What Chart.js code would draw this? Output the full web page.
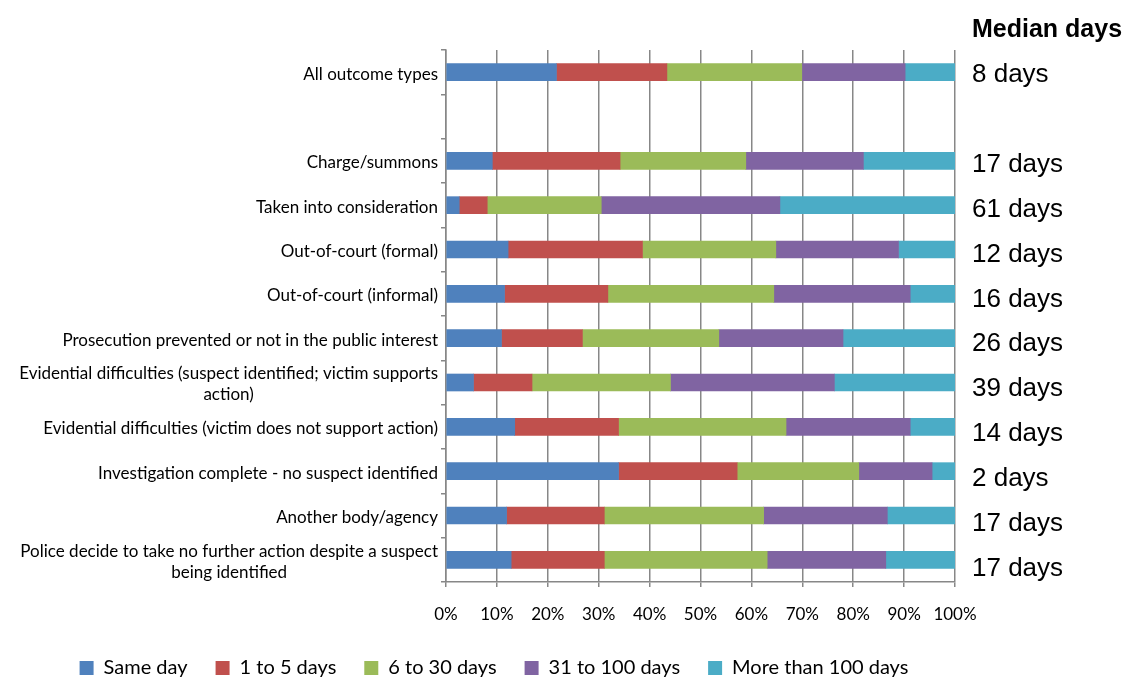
<!DOCTYPE html>
<html>
<head>
<meta charset="utf-8">
<script src="https://cdn.jsdelivr.net/npm/chart.js@4.4.0/dist/chart.umd.min.js"></script>
<style>
  html, body { margin: 0; padding: 0; background: #fff; }
  #wrap { width: 1126px; height: 680px; }
</style>
</head>
<body>
<div id="wrap"><canvas id="chart" width="1126" height="680"></canvas></div>
<script>
const categories = [
  'All outcome types',
  '',
  'Charge/summons',
  'Taken into consideration',
  'Out-of-court (formal)',
  'Out-of-court (informal)',
  'Prosecution prevented or not in the public interest',
  ['Evidential difficulties (suspect identified; victim supports', 'action)'],
  'Evidential difficulties (victim does not support action)',
  'Investigation complete - no suspect identified',
  'Another body/agency',
  ['Police decide to take no further action despite a suspect', 'being identified']
];
const medianDays = ['8 days', '', '17 days', '61 days', '12 days', '16 days', '26 days', '39 days', '14 days', '2 days', '17 days', '17 days'];

const sameDay      = [21.7, null,  9.1,  2.6, 12.2, 11.5, 10.9,  5.4, 13.5, 33.9, 11.9, 12.8];
const oneToFive    = [21.7, null, 25.1,  5.5, 26.4, 20.3, 15.9, 11.5, 20.4, 23.3, 19.2, 18.3];
const sixToThirty  = [26.5, null, 24.7, 22.4, 26.2, 32.6, 26.8, 27.2, 32.9, 23.9, 31.3, 32.0];
const to100        = [20.3, null, 23.1, 35.1, 24.1, 26.8, 24.4, 32.2, 24.4, 14.4, 24.3, 23.3];
const over100      = [ 9.8, null, 18.0, 34.4, 11.1,  8.8, 22.0, 23.7,  8.8,  4.5, 13.3, 13.6];

const xTicks = [0, 10, 20, 30, 40, 50, 60, 70, 80, 90, 100];

const axisGrey = '#878787';

// left labels: block right-aligned to the axis, lines centred inside it
const sideLabels = {
  id: 'sideLabels',
  afterDraw(chart) {
    const ctx = chart.ctx;
    const yScale = chart.scales.y;
    const area = chart.chartArea;
    ctx.save();
    ctx.fillStyle = '#000';
    ctx.textBaseline = 'middle';
    ctx.textAlign = 'center';
    ctx.font = '17px Lato';
    categories.forEach((lab, i) => {
      if (!lab) return;
      const lines = Array.isArray(lab) ? lab : [lab];
      const w = Math.max(...lines.map(l => ctx.measureText(l).width));
      const cx = area.left - 8 - w / 2;
      const yc = yScale.getPixelForValue(i) + 2;
      lines.forEach((l, k) => {
        ctx.fillText(l, cx, yc + (k - (lines.length - 1) / 2) * 21);
      });
    });

    // median column sits a little lower than the bars, drifting down the list
    ctx.textAlign = 'left';
    ctx.font = '26px "Liberation Sans"';
    medianDays.forEach((m, i) => {
      if (!m) return;
      ctx.fillText(m, area.right + 17, yScale.getPixelForValue(i) + 3 + i * 0.5);
    });
    ctx.font = 'bold 25px "Liberation Sans"';
    ctx.fillText('Median days', area.right + 17, area.top - 20);
    ctx.restore();
  }
};

const ctx = document.getElementById('chart').getContext('2d');
new Chart(ctx, {
  type: 'bar',
  data: {
    labels: categories,
    datasets: [
      { label: 'Same day', data: sameDay, backgroundColor: '#4F81BD' },
      { label: '1 to 5 days', data: oneToFive, backgroundColor: '#C0504D' },
      { label: '6 to 30 days', data: sixToThirty, backgroundColor: '#9BBB59' },
      { label: '31 to 100 days', data: to100, backgroundColor: '#8064A2' },
      { label: 'More than 100 days', data: over100, backgroundColor: '#4BACC6' }
    ]
  },
  options: {
    indexAxis: 'y',
    responsive: false,
    animation: false,
    maintainAspectRatio: false,
    barThickness: 17,
    layout: { padding: { top: 50, right: 171, bottom: 0, left: 33 } },
    plugins: {
      tooltip: { enabled: false },
      legend: {
        position: 'bottom',
        maxHeight: 50,
        labels: {
          boxWidth: 14,
          boxHeight: 14,
          padding: 28,
          color: '#000',
          font: { family: 'Lato', size: 20 }
        }
      }
    },
    scales: {
      x: {
        stacked: true,
        min: 0,
        max: 100,
        afterBuildTicks(scale) { scale.ticks = xTicks.map(v => ({ value: v })); },
        afterFit(scale) { scale.height = 48; },
        ticks: {
          color: '#000',
          padding: 17,
          font: { family: 'Lato', size: 17 },
          callback: v => v + '%'
        },
        grid: { color: axisGrey, lineWidth: 1.5, tickLength: 5 },
        border: { color: axisGrey, width: 1.5 }
      },
      y: {
        stacked: true,
        afterFit(scale) { scale.width = 413; },
        ticks: { display: false },
        grid: { drawOnChartArea: false, color: axisGrey, lineWidth: 1.5, tickLength: 5, offset: true },
        border: { color: axisGrey, width: 1.5 }
      }
    }
  },
  plugins: [sideLabels]
});
</script>
</body>
</html>
